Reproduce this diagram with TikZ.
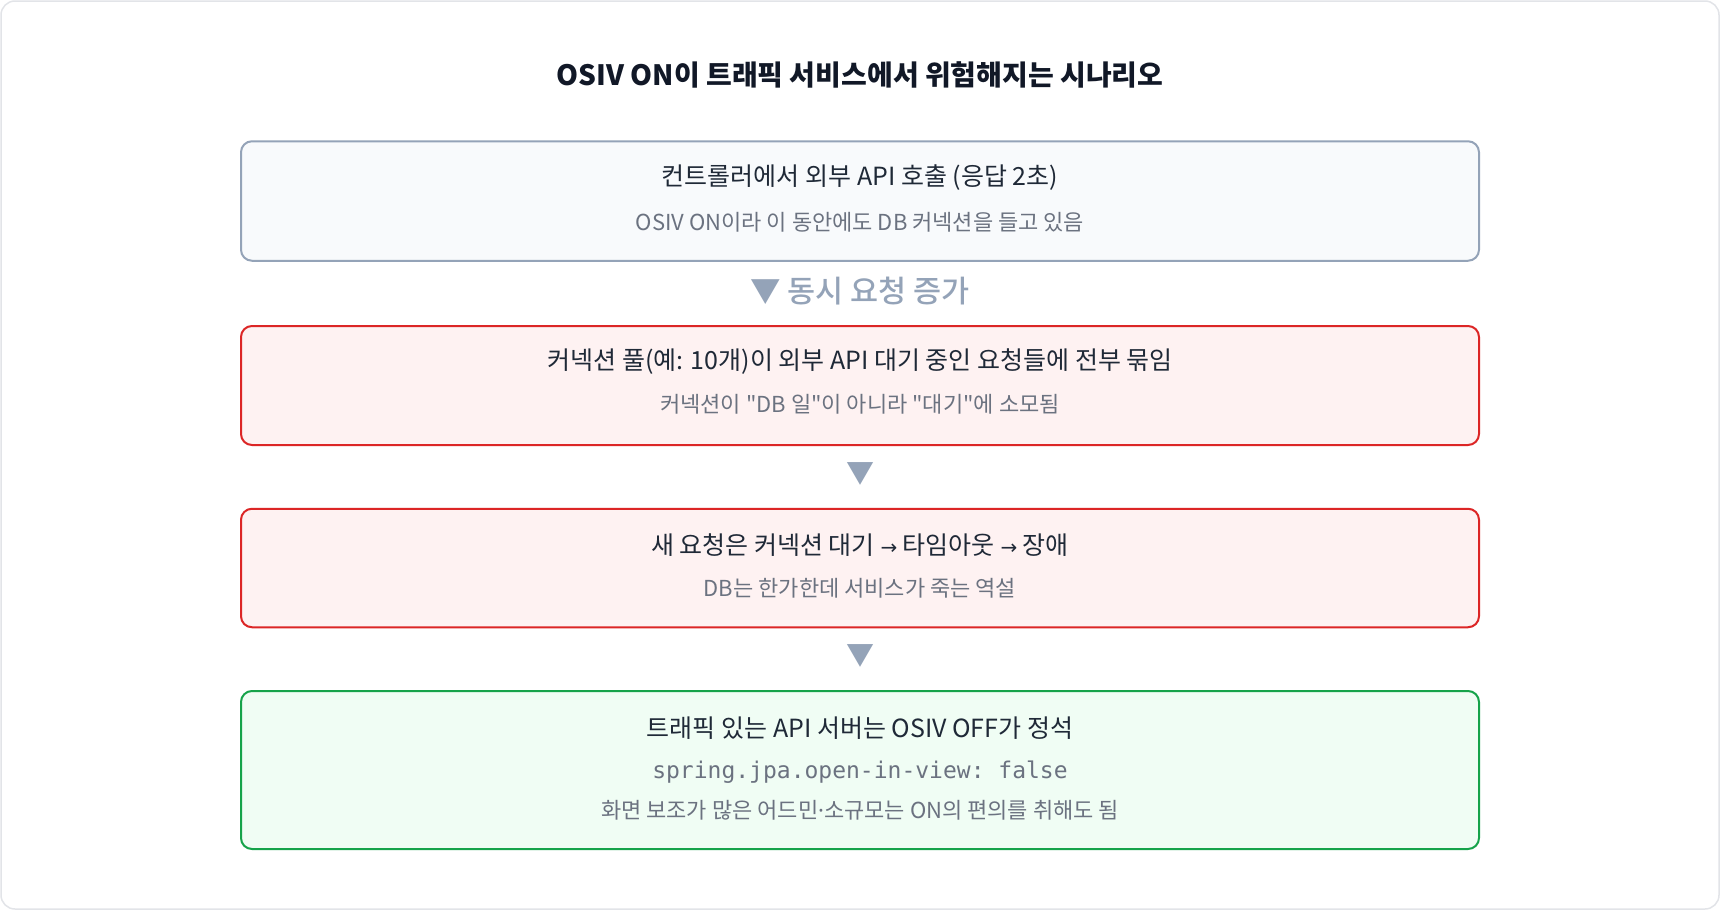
\documentclass[tikz,border=0pt]{standalone}
\usepackage{fontspec}
\setmainfont{Noto Sans CJK KR}[Ligatures=TeXOff]
\setmonofont{DejaVu Sans Mono}
\newfontfamily\medfont{Noto Sans CJK KR Medium}
\newfontfamily\latinfont{Noto Sans}
\newfontfamily\symfont{DejaVu Sans}
\usepackage{xcolor}
\usepackage{tikz}

\definecolor{frameline}{HTML}{E2E4E8}
\definecolor{titleink}{HTML}{111827}
\definecolor{mainink}{HTML}{1F2937}
\definecolor{subink}{HTML}{6B7280}
\definecolor{slateline}{HTML}{94A3B8}
\definecolor{slatefill}{HTML}{F8FAFC}
\definecolor{dangerline}{HTML}{DC2626}
\definecolor{dangerfill}{HTML}{FEF2F2}
\definecolor{okline}{HTML}{16A34A}
\definecolor{okfill}{HTML}{F0FDF4}

\newcommand{\thenarrow}{{\symfont\fontsize{20}{24}\selectfont →}}

\tikzset{
  panel/.style={draw, line width=2pt, rounded corners=11pt, minimum width=1238pt, inner sep=0pt},
  maintext/.style={inner sep=0pt, text=mainink, font=\fontsize{25}{30}\selectfont},
  subtext/.style={inner sep=0pt, text=subink, font=\fontsize{22}{26}\selectfont},
  codetext/.style={inner sep=0pt, text=subink, font=\ttfamily\fontsize{23}{27}\selectfont},
  downmark/.style={inner sep=0pt, text=slateline, font=\medfont\fontsize{28}{32}\selectfont}
}

\begin{document}
\begin{tikzpicture}[x=1pt,y=-1pt]
    %%% FRAME %%%
    \filldraw[fill=white, draw=frameline, line width=1.5pt, rounded corners=14pt] (1,1) rectangle (1719,909);
    \useasboundingbox (0,0) rectangle (1720,910);

    %%% TITLE %%%
    \node[inner sep=0pt, text=titleink, font=\bfseries\fontsize{28}{32}\selectfont] (title) at (860,75) {OSIV ON이 트래픽 서비스에서 위험해지는 시나리오};

    %%% BOXES %%%
    \node[panel, draw=slateline, fill=slatefill, minimum height=119.5pt] (call) at (860,201) {};
    \node[panel, draw=dangerline, fill=dangerfill, minimum height=119pt] (pool) at (860,385.5) {};
    \node[panel, draw=dangerline, fill=dangerfill, minimum height=118.5pt] (fail) at (860,568) {};
    \node[panel, draw=okline, fill=okfill, minimum height=158pt] (fix) at (860,770) {};

    %%% TEXTS %%%
    \node[maintext] (call-t) at (860,178) {컨트롤러에서 외부 API 호출 (응답 2초)};
    \node[subtext] (call-s) at (860,222) {OSIV ON이라 이 동안에도 DB 커넥션을 들고 있음};
    \node[maintext] (pool-t) at (860,362) {커넥션 풀(예: 10개)이 외부 API 대기 중인 요청들에 전부 묶임};
    \node[subtext] (pool-s) at (860,404) {커넥션이 "DB 일"이 아니라 "대기"에 소모됨};
    \node[maintext] (fail-t) at (860,545) {새 요청은 커넥션 대기 \thenarrow{} 타임아웃 \thenarrow{} 장애};
    \node[subtext] (fail-s) at (860,588) {DB는 한가한데 서비스가 죽는 역설};
    \node[maintext] (fix-t) at (860,728) {트래픽 있는 API 서버는 OSIV OFF가 정석};
    \node[codetext] (fix-c) at (860,772) {spring.jpa.open-in-view: false};
    \node[subtext] (fix-s) at (860,810) {화면 보조가 많은 어드민{\latinfont ·}소규모는 ON의 편의를 취해도 됨};

    %%% DOWN MARKS %%%
    \node[downmark, font=\medfont\fontsize{30.5}{34}\selectfont] (step1) at (860,291) {▼ 동시 요청 증가};
    \node[downmark] (step2) at (860,474) {▼};
    \node[downmark] (step3) at (860,656) {▼};
\end{tikzpicture}
\end{document}
